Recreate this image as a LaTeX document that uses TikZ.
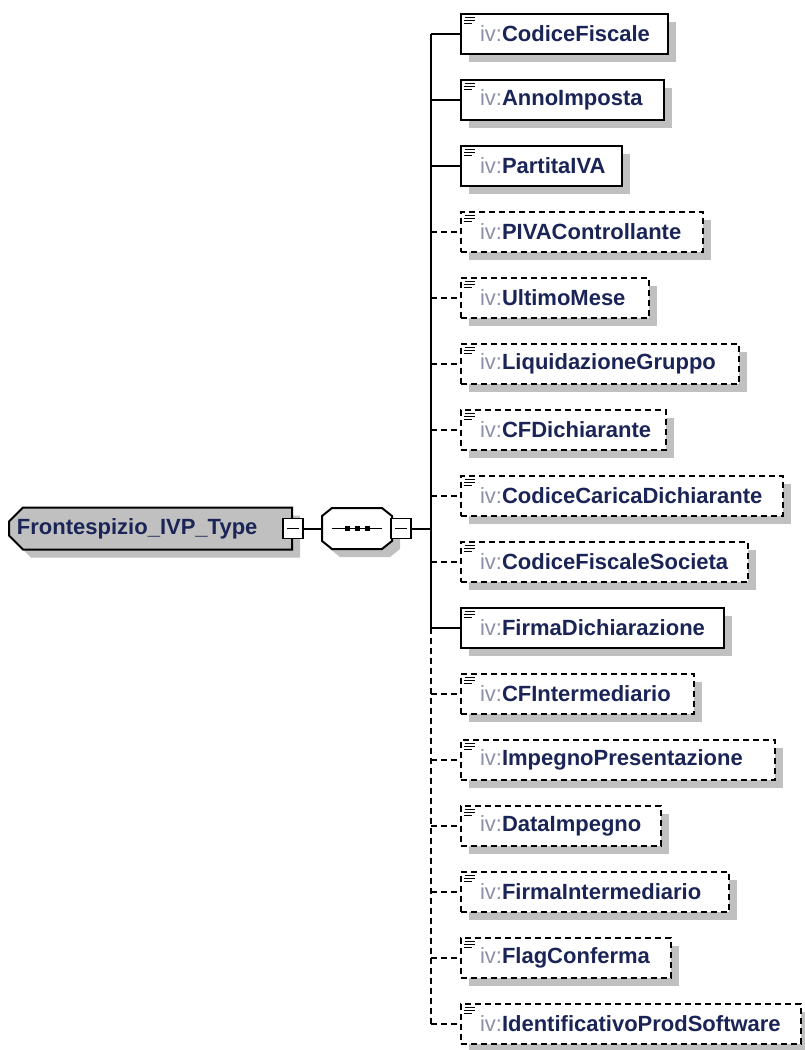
\documentclass[tikz,border=0pt]{standalone}
\usepackage{fontspec}
\newfontfamily\elemfont{Liberation Sans}
\usetikzlibrary{shapes.misc,shadows}
\newlength{\du}
\setlength{\du}{1pt}
\definecolor{namecolor}{HTML}{1A2456}
\definecolor{prefixcolor}{HTML}{8C90A8}
\definecolor{shadowcolor}{HTML}{C0C0C0}
\tikzset{
  boxshadow/.style={drop shadow={shadow xshift=8\du, shadow yshift=-8\du, opacity=1, fill=shadowcolor}},
  elem/.style={rectangle, draw=black, line width=2\du, fill=white, anchor=west,
    minimum height=40\du, inner xsep=0pt, inner ysep=0pt, align=left, text=namecolor,
    font={\elemfont\fontsize{22}{24}\selectfont\bfseries}, boxshadow,
    path picture={
      \draw[solid, line width=1.2\du, black] ([xshift=4\du,yshift=-4\du]path picture bounding box.north west) -- ++(10\du,0);
      \draw[solid, line width=1.2\du, black] ([xshift=3\du,yshift=-7\du]path picture bounding box.north west) -- ++(11\du,0);
      \draw[solid, line width=1.2\du, black] ([xshift=3\du,yshift=-10\du]path picture bounding box.north west) -- ++(8\du,0);
    }},
  optelem/.style={elem, dash pattern=on 6\du off 4\du},
  rootbox/.style={chamfered rectangle, chamfered rectangle corners={north west,south west},
    chamfered rectangle xsep=7\du, chamfered rectangle ysep=7\du, draw=black, line width=2\du,
    fill=shadowcolor, anchor=east, minimum height=42\du, inner xsep=0pt, inner ysep=0pt,
    align=left, text=namecolor, font={\elemfont\fontsize{22}{24}\selectfont\bfseries}, boxshadow},
  seqbox/.style={rectangle, minimum width=70\du, minimum height=41\du, inner sep=0pt},
  collapse/.style={rectangle, draw=black, line width=1.5\du, fill=white, minimum size=20\du, inner sep=0pt,
    path picture={\draw[line width=1.5\du] ([xshift=4\du]path picture bounding box.west) -- ([xshift=-4\du]path picture bounding box.east);}},
  link/.style={line width=2\du},
  optlink/.style={line width=2\du, dash pattern=on 6\du off 4\du}
}
\begin{document}
\begin{tikzpicture}
\useasboundingbox (0\du,0\du) rectangle (805\du,-1050\du);
% complex type
\node[rootbox, text width=269\du] (root) at (293\du,-528.5\du) {\hspace*{1\du}Frontespizio\_IVP\_Type};
\node[collapse] (rootcol) at (293\du,-528.5\du) {};
% sequence
\fill[shadowcolor] (340\du,-516\du)--(390\du,-516\du)--(400\du,-524\du)--(400\du,-549\du)--(390\du,-557\du)--(340\du,-557\du)--(330\du,-549\du)--(330\du,-524\du)--cycle;
\filldraw[fill=white, draw=black, line width=2\du, miter limit=4] (332\du,-508\du)--(382\du,-508\du)--(392\du,-516\du)--(392\du,-541\du)--(382\du,-549\du)--(332\du,-549\du)--(322\du,-541\du)--(322\du,-516\du)--cycle;
\node[seqbox] (seq) at (357\du,-528.5\du) {};
\draw[line width=1.5\du] ([xshift=10\du]seq.west) -- ([xshift=-10\du]seq.east);
\fill ([xshift=-12.5\du,yshift=-2.5\du]seq.center) rectangle ([xshift=-7.5\du,yshift=2.5\du]seq.center);
\fill ([xshift=-2.5\du,yshift=-2.5\du]seq.center) rectangle ([xshift=2.5\du,yshift=2.5\du]seq.center);
\fill ([xshift=7.5\du,yshift=-2.5\du]seq.center) rectangle ([xshift=12.5\du,yshift=2.5\du]seq.center);
\node[collapse] (seqcol) at (401\du,-528.5\du) {};
\draw[link] (rootcol.east) -- (seq.west);
% trunk points
\coordinate (tmid) at (431\du,-528.5\du);
\coordinate (t0) at (431\du,-33.5\du);
\coordinate (t1) at (431\du,-99.5\du);
\coordinate (t2) at (431\du,-165.5\du);
\coordinate (t3) at (431\du,-231.5\du);
\coordinate (t4) at (431\du,-297.5\du);
\coordinate (t5) at (431\du,-363.5\du);
\coordinate (t6) at (431\du,-429.5\du);
\coordinate (t7) at (431\du,-495.5\du);
\coordinate (t8) at (431\du,-561.5\du);
\coordinate (t9) at (431\du,-627.5\du);
\coordinate (t10) at (431\du,-693.5\du);
\coordinate (t11) at (431\du,-759.5\du);
\coordinate (t12) at (431\du,-825.5\du);
\coordinate (t13) at (431\du,-891.5\du);
\coordinate (t14) at (431\du,-957.5\du);
\coordinate (t15) at (431\du,-1023.5\du);
\draw[link] (seqcol.east) -- (tmid);
\draw[link] (t0) -- (t9);
\draw[optlink] (t9) -- (t15);
% elements
\node[elem, text width=207\du] (codfisc) at (460\du,-33.5\du) {\hspace*{19\du}{\mdseries\color{prefixcolor}iv:}CodiceFiscale};
\node[elem, text width=203\du] (anno) at (460\du,-99.5\du) {\hspace*{19\du}{\mdseries\color{prefixcolor}iv:}AnnoImposta};
\node[elem, text width=161\du] (piva) at (460\du,-165.5\du) {\hspace*{19\du}{\mdseries\color{prefixcolor}iv:}PartitaIVA};
\node[optelem, text width=242\du] (pivactrl) at (460\du,-231.5\du) {\hspace*{19\du}{\mdseries\color{prefixcolor}iv:}PIVAControllante};
\node[optelem, text width=188\du] (mese) at (460\du,-297.5\du) {\hspace*{19\du}{\mdseries\color{prefixcolor}iv:}UltimoMese};
\node[optelem, text width=278\du] (liquid) at (460\du,-363.5\du) {\hspace*{19\du}{\mdseries\color{prefixcolor}iv:}LiquidazioneGruppo};
\node[optelem, text width=205\du] (cfdich) at (460\du,-429.5\du) {\hspace*{19\du}{\mdseries\color{prefixcolor}iv:}CFDichiarante};
\node[optelem, text width=322\du] (carica) at (460\du,-495.5\du) {\hspace*{19\du}{\mdseries\color{prefixcolor}iv:}CodiceCaricaDichiarante};
\node[optelem, text width=287\du] (cfsoc) at (460\du,-561.5\du) {\hspace*{19\du}{\mdseries\color{prefixcolor}iv:}CodiceFiscaleSocieta};
\node[elem, text width=263\du] (firmadich) at (460\du,-627.5\du) {\hspace*{19\du}{\mdseries\color{prefixcolor}iv:}FirmaDichiarazione};
\node[optelem, text width=233\du] (cfint) at (460\du,-693.5\du) {\hspace*{19\du}{\mdseries\color{prefixcolor}iv:}CFIntermediario};
\node[optelem, text width=314\du] (impegno) at (460\du,-759.5\du) {\hspace*{19\du}{\mdseries\color{prefixcolor}iv:}ImpegnoPresentazione};
\node[optelem, text width=200\du] (data) at (460\du,-825.5\du) {\hspace*{19\du}{\mdseries\color{prefixcolor}iv:}DataImpegno};
\node[optelem, text width=268\du] (firmaint) at (460\du,-891.5\du) {\hspace*{19\du}{\mdseries\color{prefixcolor}iv:}FirmaIntermediario};
\node[optelem, text width=210\du] (flag) at (460\du,-957.5\du) {\hspace*{19\du}{\mdseries\color{prefixcolor}iv:}FlagConferma};
\node[optelem, text width=340\du] (software) at (460\du,-1023.5\du) {\hspace*{19\du}{\mdseries\color{prefixcolor}iv:}IdentificativoProdSoftware};
% connectors
\draw[link] (t0) -- (codfisc.west);
\draw[link] (t1) -- (anno.west);
\draw[link] (t2) -- (piva.west);
\draw[optlink] (t3) -- (pivactrl.west);
\draw[optlink] (t4) -- (mese.west);
\draw[optlink] (t5) -- (liquid.west);
\draw[optlink] (t6) -- (cfdich.west);
\draw[optlink] (t7) -- (carica.west);
\draw[optlink] (t8) -- (cfsoc.west);
\draw[link] (t9) -- (firmadich.west);
\draw[optlink] (t10) -- (cfint.west);
\draw[optlink] (t11) -- (impegno.west);
\draw[optlink] (t12) -- (data.west);
\draw[optlink] (t13) -- (firmaint.west);
\draw[optlink] (t14) -- (flag.west);
\draw[optlink] (t15) -- (software.west);
\end{tikzpicture}
\end{document}
